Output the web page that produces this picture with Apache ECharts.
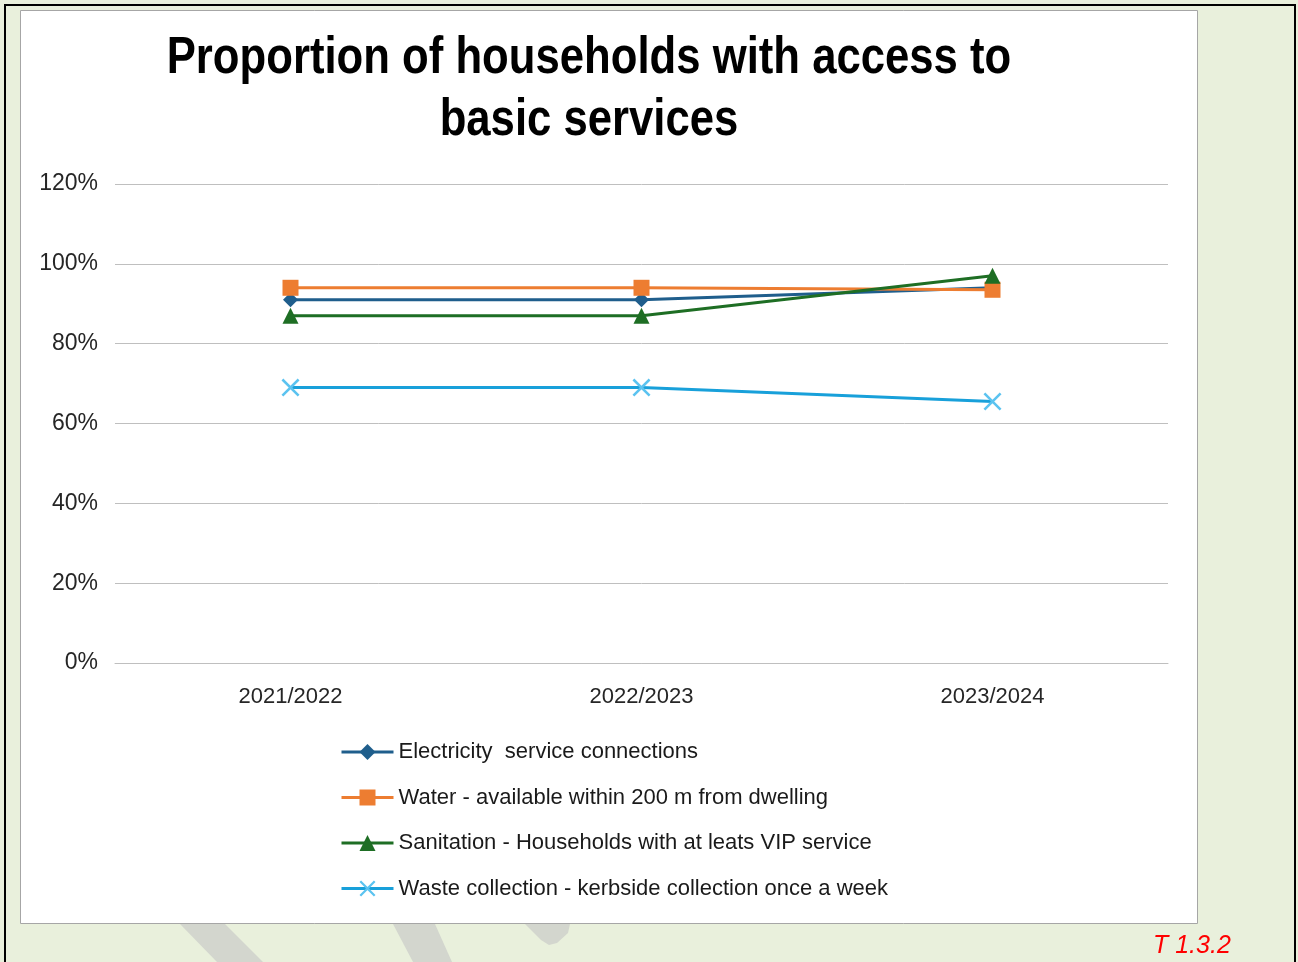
<!DOCTYPE html>
<html>
<head>
<meta charset="utf-8">
<script src="https://cdn.jsdelivr.net/npm/echarts@6/dist/echarts.min.js"></script>
<style>
html,body{margin:0;padding:0;background:#E9F0DC;}
#chart{width:1298px;height:962px;}
</style>
</head>
<body>
<div id="chart"></div>
<script>
const categories = ['2021/2022', '2022/2023', '2023/2024'];
const electricity = [0.91, 0.91, 0.94];
const water = [0.94, 0.94, 0.935];
const sanitation = [0.87, 0.87, 0.97];
const waste = [0.69, 0.69, 0.655];
const seriesNames = [
  'Electricity  service connections',
  'Water - available within 200 m from dwelling',
  'Sanitation - Households with at leats VIP service',
  'Waste collection - kerbside collection once a week'
];
const titleLines = ['Proportion of households with access to', 'basic services'];
const noteText = 'T 1.3.2';

const sans = '"Liberation Sans", Arial, sans-serif';
const xSymbol = 'path://M0,1 L1,0 L10,9 L9,10 Z M9,0 L10,1 L1,10 L0,9 Z';

const chart = echarts.init(document.getElementById('chart'), null, {renderer: 'canvas'});
chart.setOption({
  backgroundColor: '#E9F0DC',
  animation: false,
  graphic: [
    {type: 'polygon', z: -10, shape: {points: [[180,924],[225,924],[263,962],[217,962]]}, style: {fill: '#D3D6CE'}},
    {type: 'polygon', z: -10, shape: {points: [[393,924],[435,924],[452,962],[413,962]]}, style: {fill: '#D3D6CE'}},
    {type: 'polygon', z: -10, shape: {points: [[525,924],[570,924],[568,933],[557,943],[549,945],[541,940]]}, style: {fill: '#D3D6CE'}},
    {type: 'rect', z: -5, shape: {x: 5, y: 5, width: 1290, height: 1000}, style: {fill: 'none', stroke: '#000', lineWidth: 2}},
    {type: 'rect', z: -4, shape: {x: 20.5, y: 10.5, width: 1177, height: 913}, style: {fill: '#FFFFFF', stroke: '#A6A6A6', lineWidth: 1}},
    {type: 'text', z: 5, x: 589, y: 59, scaleX: 0.84,
     style: {text: titleLines[0], x: 0, y: 0, align: 'center', verticalAlign: 'middle', fill: '#000', font: 'bold 52px ' + sans}},
    {type: 'text', z: 5, x: 589, y: 121, scaleX: 0.84,
     style: {text: titleLines[1], x: 0, y: 0, align: 'center', verticalAlign: 'middle', fill: '#000', font: 'bold 52px ' + sans}},
    {type: 'text', z: 5, left: 1153, top: 934, style: {text: noteText, fill: '#FF0000', font: 'italic 25px ' + sans}}
  ],
  legend: {
    orient: 'vertical',
    left: 340, top: 740,
    padding: 0,
    itemWidth: 52, itemHeight: 20, itemGap: 21.5,
    lineStyle: {width: 3},
    textStyle: {fontFamily: sans, fontSize: 22, lineHeight: 24, color: '#1a1a1a'},
    data: seriesNames
  },
  grid: {left: 115, right: 130, top: 184, bottom: 299, containLabel: false},
  xAxis: {
    type: 'category',
    data: categories,
    boundaryGap: true,
    axisLine: {lineStyle: {color: '#BFBFBF', width: 1}},
    axisTick: {show: false},
    axisLabel: {fontFamily: sans, fontSize: 22, color: '#262626', margin: 23}
  },
  yAxis: {
    type: 'value',
    min: 0, max: 1.2, interval: 0.2,
    axisLine: {show: false},
    axisTick: {show: false},
    splitLine: {lineStyle: {color: '#BFBFBF', width: 1}},
    axisLabel: {fontFamily: sans, fontSize: 23, color: '#262626', margin: 17,
      formatter: v => Math.round(v * 100) + '%'}
  },
  series: [
    {name: seriesNames[0], type: 'line', data: electricity, symbol: 'diamond', symbolSize: 15,
     lineStyle: {color: '#1F5E8C', width: 3}, itemStyle: {color: '#1F5E8C'}},
    {name: seriesNames[1], type: 'line', data: water, symbol: 'rect', symbolSize: 16,
     lineStyle: {color: '#ED7D31', width: 3}, itemStyle: {color: '#ED7D31'}},
    {name: seriesNames[2], type: 'line', data: sanitation, symbol: 'triangle', symbolSize: 16,
     lineStyle: {color: '#1E6E24', width: 3}, itemStyle: {color: '#1E6E24'}},
    {name: seriesNames[3], type: 'line', data: waste, symbol: xSymbol, symbolSize: 18,
     lineStyle: {color: '#18A0DA', width: 3}, itemStyle: {color: '#5BC3F0'}}
  ]
});
</script>
</body>
</html>
